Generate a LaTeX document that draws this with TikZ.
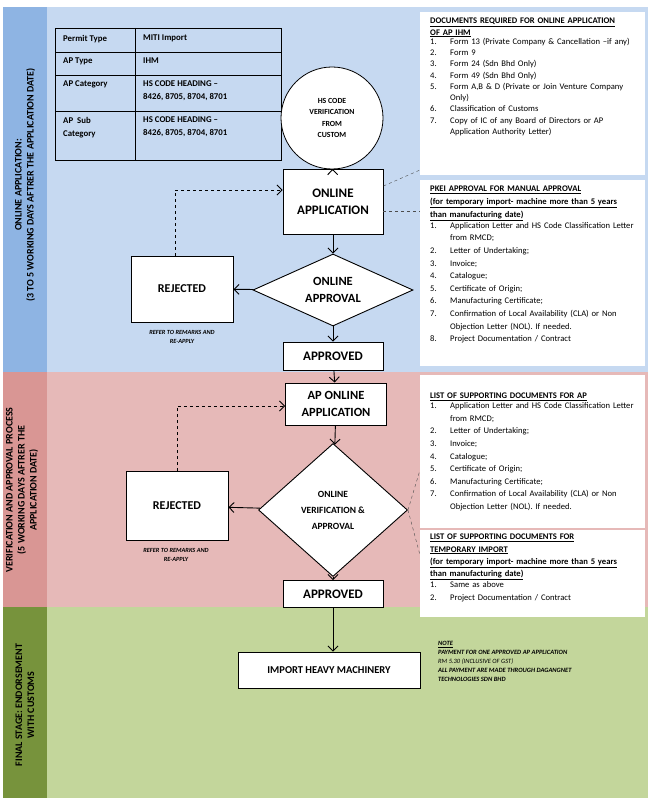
\documentclass[tikz,border=0pt]{standalone}
\usepackage{fontspec}
\usepackage{array}
\setmainfont{Carlito}
\usetikzlibrary{shapes.geometric,arrows.meta}
\definecolor{bstrip}{HTML}{8EB4E3}
\definecolor{bbody}{HTML}{C6D9F1}
\definecolor{pstrip}{HTML}{D99694}
\definecolor{pbody}{HTML}{E6B9B8}
\definecolor{gstrip}{HTML}{77933C}
\definecolor{gbody}{HTML}{C3D69B}
\newcommand{\ulx}[1]{\underline{#1}}
\newcolumntype{L}{>{\raggedright\arraybackslash\hyphenpenalty=10000}p{188pt}}
\begin{document}
\begin{tikzpicture}[x=1pt,y=-1pt,
  box/.style={draw,fill=white,line width=0.9pt,align=center,font=\bfseries},
  arr/.style={-{Straight Barb[length=5pt]},line width=0.9pt},
  darr/.style={-{Straight Barb[length=5pt]},dashed,line width=0.8pt},
  thin dash/.style={dashed,line width=0.4pt,gray!60!black},
  docbg/.style={fill=white},
  doc/.style={anchor=north west,inner sep=0pt,align=left,text width=210pt,font=\fontsize{8.6}{11.3}\selectfont},
  side/.style={rotate=90,align=center,font=\bfseries\fontsize{10}{12}\selectfont}]
\useasboundingbox (0,0) rectangle (653,802);
\fill[white] (0,0) rectangle (653,802);
% bands
\fill[bstrip] (3,7) rectangle (47,372);
\fill[bbody] (47,7) rectangle (648,372);
\fill[pstrip] (3,372) rectangle (47,607);
\fill[pbody] (47,372) rectangle (648,607);
\fill[gstrip] (3,607) rectangle (47,798);
\fill[gbody] (47,607) rectangle (648,798);
\node[side] (s1) at (25,185) {ONLINE APPLICATION:\\(3 TO 5 WORKING DAYS AFTRER THE APPLICATION DATE)};
\node[side] (s2) at (22,490) {VERIFICATION AND APPROVAL PROCESS\\(5 WORKING DAYS AFTRER THE\\APPLICATION DATE)};
\node[side] (s3) at (25,705) {FINAL STAGE: ENDORSEMENT\\WITH CUSTOMS};
% table
\draw[line width=0.8pt] (55,28) rectangle (281,160);
\draw[line width=0.6pt] (135,28) -- (135,160) (55,52) -- (281,52) (55,75) -- (281,75) (55,111) -- (281,111);
\begin{scope}[every node/.style={anchor=north west,font=\bfseries\fontsize{8.8}{12.8}\selectfont,align=left,inner sep=0pt}]
\node (t1) at (63,35) {Permit Type};
\node (t2) at (143,35) {MITI Import};
\node (t3) at (63,58) {AP Type};
\node (t4) at (143,58) {IHM};
\node (t5) at (63,81) {AP Category};
\node (t6) at (143,81) {HS CODE HEADING –\\8426, 8705, 8704, 8701};
\node (t7) at (63,117) {AP\ \ Sub\\Category};
\node (t8) at (143,117) {HS CODE HEADING –\\8426, 8705, 8704, 8701};
\end{scope}
% band 1 flow
\node[circle,draw,fill=white,line width=0.8pt,minimum size=102pt,inner sep=0pt,align=center,font=\bfseries\fontsize{7.8}{11.5}\selectfont] (hs) at (332,118) {HS CODE\\VERIFICATION\\FROM\\CUSTOM};
\node[box,minimum width=100pt,minimum height=65pt,font=\bfseries\fontsize{13}{17}\selectfont] (oa) at (333,202) {ONLINE\\APPLICATION};
\node[diamond,aspect=2.2,draw,fill=white,line width=0.9pt,minimum width=160pt,minimum height=72pt,inner sep=0pt,align=center,font=\bfseries\fontsize{12.5}{17}\selectfont] (oap) at (333,290) {ONLINE\\APPROVAL};
\node[box,minimum width=102pt,minimum height=66pt,font=\bfseries\fontsize{12}{14}\selectfont] (rj1) at (182,289) {REJECTED};
\node[font=\itshape\bfseries\fontsize{6.3}{8.5}\selectfont,align=center] (rf1) at (182,337) {REFER TO REMARKS AND\\RE-APPLY};
\node[box,minimum width=100pt,minimum height=28pt,font=\bfseries\fontsize{13}{14}\selectfont] (ap1) at (333,356) {APPROVED};
\draw[arr] (hs) -- (oa);
\draw[arr] (oa) -- (oap);
\draw[arr] (oap) -- (rj1);
\draw[arr] (oap) -- (ap1);
\coordinate (c1) at (175,190);
\draw[darr] (rj1.north -| c1) -- (c1) -- (oa.west |- c1);
% doc boxes band 1
\fill[docbg] (420,12) rectangle (645,175);
\fill[docbg] (420,180) rectangle (645,366);
\node[doc] (d1) at (430,18) {%
\textbf{\ulx{DOCUMENTS REQUIRED FOR ONLINE APPLICATION}}\\\textbf{\ulx{OF AP IHM}}\\[-2pt]
\begin{tabular}{@{}p{20pt}@{}L@{}}
1. & Form 13 (Private Company \& Cancellation –if any)\\
2. & Form 9\\
3. & Form 24 (Sdn Bhd Only)\\
4. & Form 49 (Sdn Bhd Only)\\
5. & Form A,B \& D (Private or Join Venture Company Only)\\
6. & Classification of Customs\\
7. & Copy of IC of any Board of Directors or AP Application Authority Letter)
\end{tabular}};
\node[doc,font=\fontsize{8.6}{12.6}\selectfont] (d2) at (430,186) {%
\textbf{\ulx{PKEI APPROVAL FOR MANUAL APPROVAL}}\\\textbf{\ulx{(for temporary import- machine more than 5 years}}\\\textbf{\ulx{than manufacturing date)}}\\[-2pt]
\begin{tabular}{@{}p{20pt}@{}L@{}}
1. & Application Letter and HS Code Classification Letter from RMCD;\\
2. & Letter of Undertaking;\\
3. & Invoice;\\
4. & Catalogue;\\
5. & Certificate of Origin;\\
6. & Manufacturing Certificate;\\
7. & Confirmation of Local Availability (CLA) or Non Objection Letter (NOL). If needed.\\
8. & Project Documentation / Contract
\end{tabular}};
\coordinate (e1) at (420,170);
\coordinate (e2) at (420,211);
\draw[thin dash] (oa.east |- 0,186) -- (e1);
\draw[thin dash] (oa.east |- 0,211) -- (e2);
% band 2 flow
\node[box,minimum width=101pt,minimum height=42pt,font=\bfseries\fontsize{12.5}{17}\selectfont] (apo) at (336,404) {AP ONLINE\\APPLICATION};
\node[diamond,aspect=1.1,draw,fill=white,line width=0.9pt,minimum width=149pt,minimum height=133pt,inner sep=0pt,align=center,font=\bfseries\fontsize{9.5}{16}\selectfont] (ova) at (333,510) {ONLINE\\VERIFICATION \&\\APPROVAL};
\node[box,minimum width=102pt,minimum height=69pt,font=\bfseries\fontsize{12}{14}\selectfont] (rj2) at (177,506) {REJECTED};
\node[font=\itshape\bfseries\fontsize{6.3}{8.5}\selectfont,align=center] (rf2) at (176,555) {REFER TO REMARKS AND\\RE-APPLY};
\node[box,minimum width=100pt,minimum height=27pt,font=\bfseries\fontsize{13}{14}\selectfont] (ap2) at (333,594) {APPROVED};
\draw[arr] (ap1) -- (apo);
\draw[arr] (apo) -- (ova);
\draw[arr] (ova) -- (rj2);
\draw[arr] (ova) -- (ap2);
\coordinate (c2) at (177,406);
\draw[darr] (rj2.north -| c2) -- (c2) -- (apo.west |- c2);
\fill[docbg] (420,375) rectangle (645,528);
\fill[docbg] (420,530) rectangle (645,617);
\node[doc,font=\fontsize{8.6}{12.6}\selectfont] (d3) at (430,393) {%
\textbf{\ulx{LIST OF SUPPORTING DOCUMENTS FOR AP}}\\[-2pt]
\begin{tabular}{@{}p{20pt}@{}L@{}}
1. & Application Letter and HS Code Classification Letter from RMCD;\\
2. & Letter of Undertaking;\\
3. & Invoice;\\
4. & Catalogue;\\
5. & Certificate of Origin;\\
6. & Manufacturing Certificate;\\
7. & Confirmation of Local Availability (CLA) or Non Objection Letter (NOL). If needed.
\end{tabular}};
\node[doc,font=\fontsize{8.6}{12.3}\selectfont] (d4) at (430,534) {%
\textbf{\ulx{LIST OF SUPPORTING DOCUMENTS FOR}}\\\textbf{\ulx{TEMPORARY IMPORT}}\\\textbf{\ulx{(for temporary import- machine more than 5 years}}\\\textbf{\ulx{than manufacturing date)}}\\[-2pt]
\begin{tabular}{@{}p{20pt}@{}L@{}}
1. & Same as above\\
2. & Project Documentation / Contract
\end{tabular}};
\coordinate (e3) at (420,470);
\coordinate (e4) at (420,555);
\draw[thin dash] (ova.east) -- (e3);
\draw[thin dash] (ova.east) -- (e4);
% band 3
\node[box,minimum width=182pt,minimum height=36pt,font=\bfseries\fontsize{10.5}{12}\selectfont] (ihm) at (329,670) {IMPORT HEAVY MACHINERY};
\draw[arr] (ap2) -- (ihm.north -| ap2);
\node[anchor=north west,align=left,inner sep=0pt,font=\itshape\bfseries\fontsize{6.5}{9}\selectfont] (note) at (438,641) {\ulx{NOTE}\\PAYMENT FOR ONE APPROVED AP APPLICATION\\{\mdseries RM 5.30 (INCLUSIVE OF GST)}\\ALL PAYMENT ARE MADE THROUGH DAGANGNET\\TECHNOLOGIES SDN BHD};
\end{tikzpicture}
\end{document}
